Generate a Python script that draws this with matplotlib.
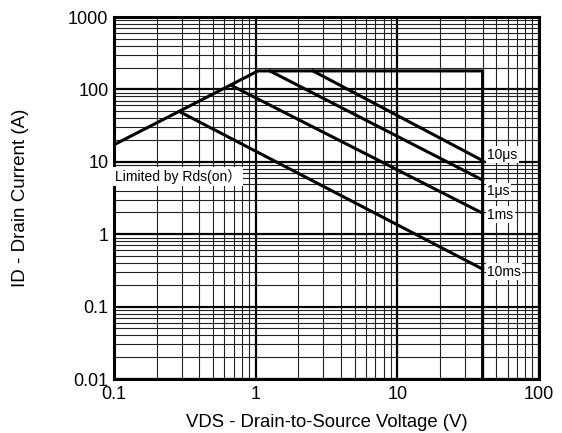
import matplotlib
matplotlib.use("Agg")
import matplotlib.pyplot as plt
from matplotlib.ticker import LogLocator, FixedLocator, NullFormatter

plt.rcParams["font.family"] = ["Liberation Sans", "Noto Sans CJK SC", "DejaVu Sans"]

# SOA outline: Rds(on) limit, current limit plateau, voltage limit
outline_v = [0.1, 1.04, 40, 40]
outline_i = [17.2, 180, 180, 0.01]

# pulse lines (start -> end)
pulse_names = ["10\u03bcs", "1\u03bcs", "1ms", "10ms"]
pulse_v = [[2.54, 40], [1.26, 40], [0.676, 40], [0.292, 40]]
pulse_i = [[180, 10.4], [180, 5.6], [113, 1.95], [49, 0.33]]
label_i = [12.5, 3.9, 1.85, 0.305]

x_ticks = [0.1, 1, 10, 100]
x_labels = ["0.1", "1", "10", "100"]
y_ticks = [0.01, 0.1, 1, 10, 100, 1000]
y_labels = ["0.01", "0.1", "1", "10", "100", "1000"]

fig = plt.figure(figsize=(5.62, 4.33), dpi=100)
ax = fig.add_axes([0.2028, 0.1247, 0.7562, 0.836])
ax.set_xscale("log")
ax.set_yscale("log")
ax.set_xlim(0.1, 100)
ax.set_ylim(0.01, 1000)

ax.xaxis.set_major_locator(FixedLocator(x_ticks))
ax.yaxis.set_major_locator(FixedLocator(y_ticks))
ax.set_xticklabels(x_labels)
ax.set_yticklabels(y_labels)
ax.xaxis.set_minor_locator(LogLocator(base=10, subs=range(2, 10)))
ax.yaxis.set_minor_locator(LogLocator(base=10, subs=range(2, 10)))
ax.xaxis.set_minor_formatter(NullFormatter())
ax.yaxis.set_minor_formatter(NullFormatter())
ax.tick_params(which="both", length=0, labelsize=13)
ax.tick_params(axis="x", pad=5)
ax.tick_params(axis="y", pad=4)

ax.grid(which="major", color="black", linewidth=1.6)
ax.grid(which="minor", color="#222222", linewidth=0.8)
ax.set_axisbelow(True)
for s in ax.spines.values():
    s.set_linewidth(2.2)

ax.plot(outline_v, outline_i, color="black", linewidth=2.2, solid_joinstyle="miter")
for v, i in zip(pulse_v, pulse_i):
    ax.plot(v, i, color="black", linewidth=2.2)

box = dict(facecolor="white", edgecolor="none", pad=1)
for name, li in zip(pulse_names, label_i):
    ax.text(43, li, name, fontsize=10, va="center", ha="left", bbox=box)

ax.text(0.102, 6.3, "Limited by Rds(on\uff09", fontsize=10, va="center", ha="left",
        bbox=dict(facecolor="white", edgecolor="none", pad=1.5))

ax.set_xlabel("VDS - Drain-to-Source Voltage (V)", fontsize=13.3, labelpad=8)
ax.set_ylabel("ID - Drain Current (A)", fontsize=13.5, labelpad=28)

fig.savefig("out.png", dpi=100)
